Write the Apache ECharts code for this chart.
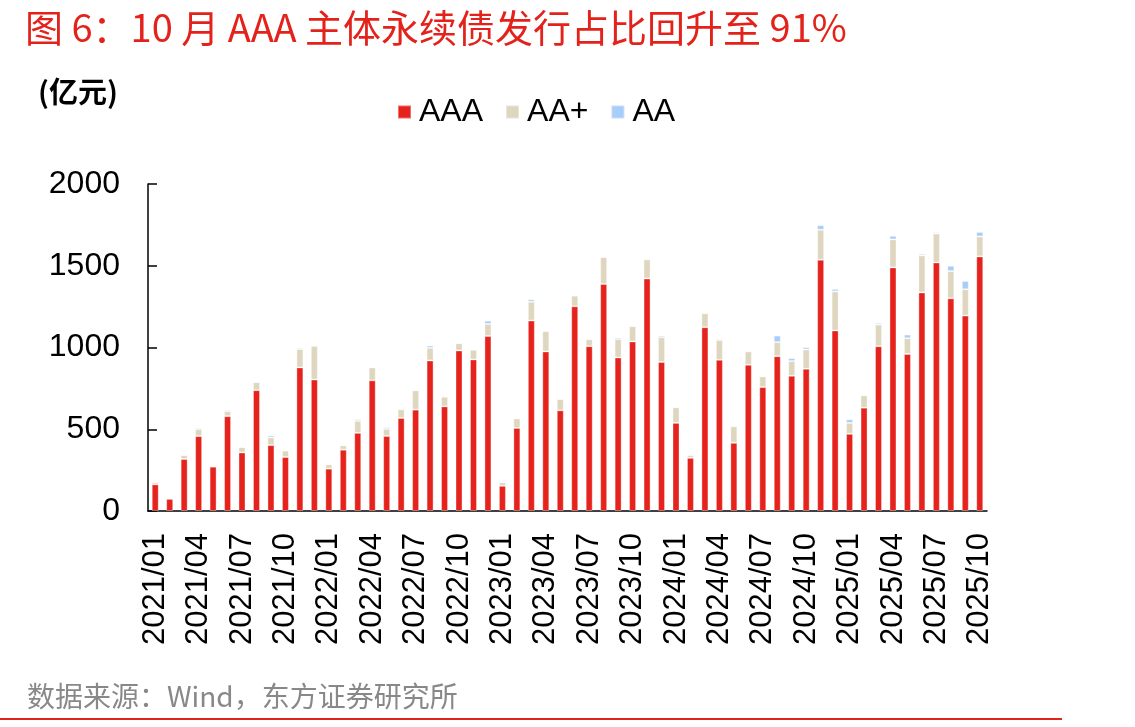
<!DOCTYPE html>
<html>
<head>
<meta charset="utf-8">
<style>
  html, body { margin: 0; padding: 0; background: #fff; }
  #chart { width: 1135px; height: 727px; }
</style>
<script src="https://cdn.jsdelivr.net/npm/echarts@6/dist/echarts.min.js"></script>
</head>
<body>
<div id="chart"></div>
<script>
// months 2021/01 .. 2025/10
const months = [];
for (let y = 2021; y <= 2025; y++) {
  for (let m = 1; m <= 12; m++) {
    if (y === 2025 && m > 10) break;
    months.push(y + "/" + String(m).padStart(2, "0"));
  }
}

// issuance, 亿元
const aaa = [163, 75, 318, 458, 271, 580, 358, 739, 403, 330, 878, 804,
             259, 375, 478, 799, 459, 569, 620, 921, 640, 982, 927, 1070,
             154, 508, 1165, 976, 616, 1252, 1008, 1388, 939, 1037, 1422, 911,
             539, 325, 1124, 925, 417, 894, 758, 947, 827, 870, 1537, 1104,
             472, 632, 1008, 1490, 961, 1337, 1520, 1301, 1195, 1557];
const aaPlus = [14, 0, 24, 43, 4, 31, 33, 49, 47, 39, 112, 206,
                26, 26, 73, 79, 43, 53, 118, 77, 59, 44, 59, 74,
                21, 58, 115, 124, 69, 65, 43, 165, 112, 93, 117, 152,
                95, 16, 85, 120, 101, 82, 65, 86, 90, 118, 183, 239,
                67, 75, 132, 171, 96, 226, 177, 166, 161, 122];
const aa = [0, 0, 0, 8, 0, 8, 0, 0, 12, 6, 8, 0,
            2, 0, 10, 0, 10, 6, 0, 14, 0, 0, 4, 20,
            0, 0, 15, 4, 0, 0, 0, 0, 10, 6, 0, 10,
            0, 7, 6, 8, 0, 4, 0, 40, 18, 14, 28, 15,
            22, 0, 10, 22, 22, 10, 8, 33, 51, 28];

const yTicks = [0, 500, 1000, 1500, 2000];

const RED = "#e5231c", BEIGE = "#dfd6bf", BLUE = "#a8cdfa";
const latin = "Liberation Sans, Arial, sans-serif";
const cjk = "Noto Sans CJK SC, sans-serif";

const chart = echarts.init(document.getElementById("chart"));

const bar = (name, data, color) => ({
  name, type: "bar", stack: "total", data, barWidth: 7,
  itemStyle: { color, borderColor: "rgba(255,255,255,0.35)", borderWidth: 1 }
});

chart.setOption({
  backgroundColor: "#fff",
  animation: false,
  title: [
    { text: "图 6：10 月 AAA 主体永续债发行占比回升至 91%", left: 20, top: 4,
      textStyle: { color: "#e3231b", fontSize: 38, fontWeight: "normal", fontFamily: cjk } },
    { text: "(亿元)", left: 33, top: 72,
      textStyle: { color: "#000", fontSize: 29, fontWeight: "bold", fontFamily: cjk } },
    { text: "数据来源：Wind，东方证券研究所", left: 22, top: 677,
      textStyle: { color: "#888", fontSize: 28, fontWeight: "normal", fontFamily: cjk } }
  ],
  graphic: [
    { type: "rect", shape: { x: 0, y: 718, width: 1062, height: 2 }, style: { fill: "#e3231b" } }
  ],
  legend: {
    data: ["AAA", "AA+", "AA"],
    left: 392, top: 91,
    icon: "rect", itemWidth: 13, itemHeight: 13, itemGap: 22,
    textStyle: { color: "#000", fontSize: 32, fontFamily: latin, padding: [0, 0, 0, 3] }
  },
  grid: { left: 148, right: 148, top: 184, bottom: 216 },
  xAxis: {
    type: "category", data: months, boundaryGap: true,
    axisLine: { lineStyle: { color: "#000", width: 1.5 } },
    axisTick: { interval: 0, inside: true, length: 8, lineStyle: { color: "#000", width: 1.5 } },
    axisLabel: { interval: 2, rotate: 90, margin: 22, color: "#000", fontSize: 31, fontFamily: latin }
  },
  yAxis: {
    type: "value", min: yTicks[0], max: yTicks[yTicks.length - 1], interval: 500,
    axisLine: { show: true, lineStyle: { color: "#000", width: 1.5 } },
    axisTick: { show: true, inside: true, length: 9, lineStyle: { color: "#000", width: 1.5 } },
    axisLabel: { margin: 28, color: "#000", fontSize: 32, fontFamily: latin,
                 formatter: (v) => String(v) },
    splitLine: { show: false }
  },
  series: [
    bar("AAA", aaa, RED),
    bar("AA+", aaPlus, BEIGE),
    bar("AA", aa, BLUE)
  ]
});
</script>
</body>
</html>
